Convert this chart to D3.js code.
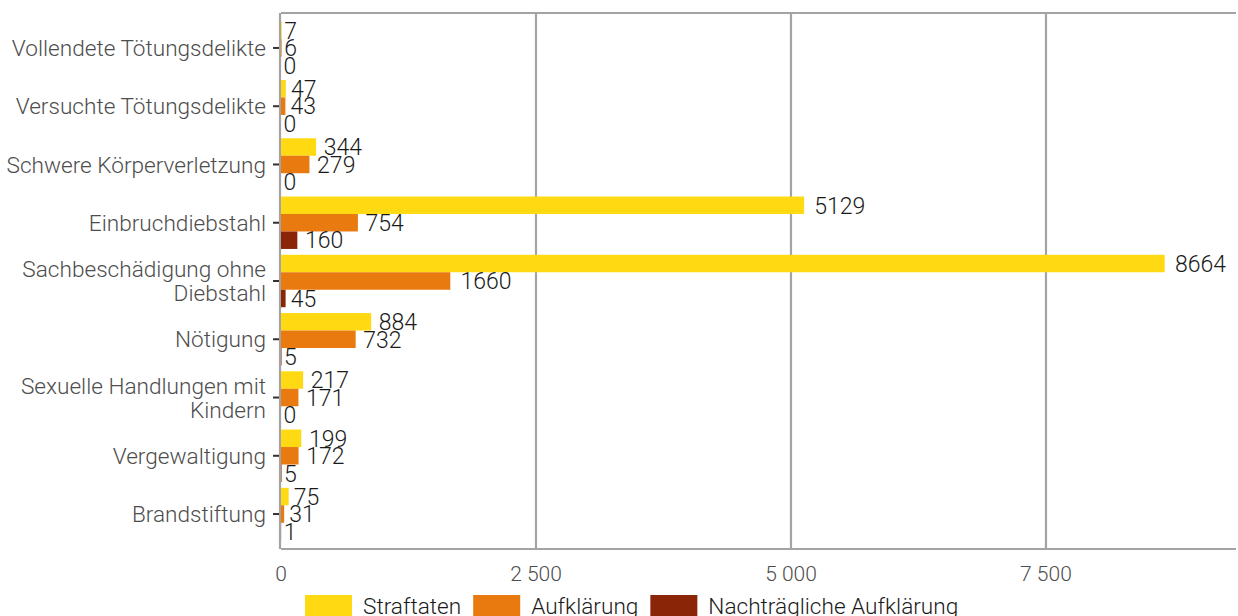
<!DOCTYPE html>
<html>
<head>
<meta charset="utf-8">
<script src="https://cdn.jsdelivr.net/npm/d3@7"></script>
<style>
  body { margin: 0; background: #fff; }
  svg { display: block; font-family: Roboto, "Noto Sans", sans-serif; }
</style>
</head>
<body>
<svg id="chart" width="1238" height="616"></svg>
<script>
// categories, top to bottom (second line after "|")
const categories = [
  "Vollendete Tötungsdelikte",
  "Versuchte Tötungsdelikte",
  "Schwere Körperverletzung",
  "Einbruchdiebstahl",
  "Sachbeschädigung ohne|Diebstahl",
  "Nötigung",
  "Sexuelle Handlungen mit|Kindern",
  "Vergewaltigung",
  "Brandstiftung"
];
const seriesNames = ["Straftaten", "Aufklärung", "Nachträgliche Aufklärung"];
const seriesColors = ["#ffda12", "#e87a10", "#8a2507"];

const straftaten = [7, 47, 344, 5129, 8664, 884, 217, 199, 75];
const aufklaerung = [6, 43, 279, 754, 1660, 732, 171, 172, 31];
const nachtraeglich = [0, 0, 0, 160, 45, 5, 0, 5, 1];

const xTicks = [0, 2500, 5000, 7500];
const xTickLabels = ["0", "2 500", "5 000", "7 500"];

const seriesValues = [straftaten, aufklaerung, nachtraeglich];

const svg = d3.select("#chart");
const plot = { left: 281, right: 1236, top: 13, bottom: 549 };
const lineColor = "#a3a3a3";

let x = d3.scaleLinear()
  .domain([0, 9363])
  .range([plot.left, plot.right]);

let y = d3.scalePoint()
  .domain(categories)
  .range([plot.top, plot.bottom])
  .padding(0.6);

const step = y.step();
let inner = d3.scaleBand()
  .domain(seriesNames)
  .range([-0.45 * step, 0.45 * step]);

// grid lines
svg.append("g")
  .selectAll("line")
  .data(xTicks.slice(1))
  .enter()
  .append("line")
    .attr("x1", d => x(d)).attr("x2", d => x(d))
    .attr("y1", plot.top).attr("y2", plot.bottom)
    .style("stroke", lineColor)
    .style("stroke-width", 2.2);

// panel top / bottom lines and left axis
svg.append("line")
  .attr("x1", plot.left).attr("x2", plot.right)
  .attr("y1", plot.top).attr("y2", plot.top)
  .style("stroke", lineColor).style("stroke-width", 2.2);
svg.append("line")
  .attr("x1", plot.left).attr("x2", plot.right)
  .attr("y1", plot.bottom).attr("y2", plot.bottom)
  .style("stroke", lineColor).style("stroke-width", 2.2);
svg.append("line")
  .attr("x1", plot.left - 1).attr("x2", plot.left - 1)
  .attr("y1", plot.top).attr("y2", plot.bottom)
  .style("stroke", lineColor).style("stroke-width", 2.2);

// bars
const rows = [];
categories.forEach((c, i) => {
  seriesNames.forEach((s, j) => {
    rows.push({ cat: c, series: s, value: seriesValues[j][i], color: seriesColors[j] });
  });
});

svg.append("g")
  .selectAll("rect")
  .data(rows)
  .enter()
  .append("rect")
    .attr("x", x(0))
    .attr("y", d => y(d.cat) + inner(d.series))
    .attr("width", d => x(d.value) - x(0))
    .attr("height", inner.bandwidth())
    .style("fill", d => d.color);

// value labels (hjust -0.2 like)
svg.append("g")
  .selectAll("text")
  .data(rows)
  .enter()
  .append("text")
    .attr("x", d => x(d.value))
    .attr("y", d => y(d.cat) + inner(d.series) + inner.bandwidth() / 2)
    .attr("dy", "0.36em")
    .style("font-size", "23px")
    .style("font-weight", 300)
    .style("fill", "#1a1a1a")
    .text(d => d.value)
    .each(function(d) {
      const w = this.getComputedTextLength();
      d3.select(this).attr("x", x(d.value) + 0.2 * w);
    });

// y axis ticks and labels
const yAxis = svg.append("g");
categories.forEach(c => {
  yAxis.append("line")
    .attr("x1", plot.left - 8).attr("x2", plot.left - 2)
    .attr("y1", y(c)).attr("y2", y(c))
    .style("stroke", "#333").style("stroke-width", 2);
  const lines = c.split("|");
  const lh = 24;
  const t = yAxis.append("text")
    .attr("text-anchor", "end")
    .style("font-size", "22.6px")
    .style("font-weight", 300)
    .style("fill", "#4d4d4d");
  lines.forEach((l, k) => {
    t.append("tspan")
      .attr("x", plot.left - 15)
      .attr("y", y(c) + (k - (lines.length - 1) / 2) * lh)
      .attr("dy", "0.36em")
      .text(l);
  });
});

// x axis labels
svg.append("g")
  .selectAll("text")
  .data(xTicks)
  .enter()
  .append("text")
    .attr("x", d => x(d))
    .attr("y", 573)
    .attr("dy", "0.36em")
    .attr("text-anchor", "middle")
    .style("font-size", "21px")
    .style("font-weight", 300)
    .style("fill", "#4d4d4d")
    .text((d, i) => xTickLabels[i]);

// legend
const legend = svg.append("g");
let lx = 305;
seriesNames.forEach((s, i) => {
  legend.append("rect")
    .attr("x", lx).attr("y", 595)
    .attr("width", 47).attr("height", 22)
    .style("fill", seriesColors[i]);
  const t = legend.append("text")
    .attr("x", lx + 58).attr("y", 614)
    .style("font-size", "22.6px")
    .style("font-weight", 300)
    .style("fill", "#1a1a1a")
    .text(s);
  lx = lx + 58 + t.node().getComputedTextLength() + 12;
});
</script>
</body>
</html>
